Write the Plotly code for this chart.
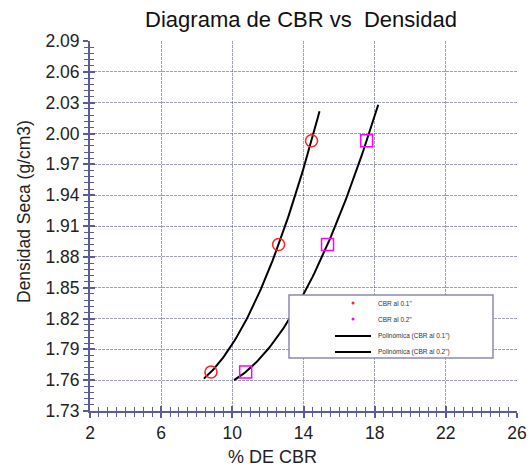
import numpy as np
import plotly.graph_objects as go

# ---- data ----
cbr_01 = [8.8, 12.6, 14.45]
dens_01 = [1.768, 1.892, 1.993]
cbr_02 = [10.75, 15.35, 17.55]
dens_02 = [1.768, 1.892, 1.993]
trend_range_01 = [8.4, 14.9]
trend_range_02 = [10.1, 18.2]
x_ticks = [2, 6, 10, 14, 18, 22, 26]
y_ticks = [1.73, 1.76, 1.79, 1.82, 1.85, 1.88, 1.91, 1.94, 1.97, 2.00, 2.03, 2.06, 2.09]
legend_names = ['CBR al 0.1"', 'CBR al 0.2"', 'Polinómica (CBR al 0.1")', 'Polinómica (CBR al 0.2")']

FONT = "Liberation Sans, Arial, sans-serif"
GRID = "rgba(60,60,140,0.5)"
AXIS = "#5a5a9c"
RED = "#ff2020"
MAG = "#ff00ff"

W, H = 529, 466
ML, MR, MT, MB = 90, 12, 41, 55
PW, PH = W - ML - MR, H - MT - MB


def px(x):
    return (x - ML) / PW


def py(y):
    return (H - MB - y) / PH


def poly_curve(x, y, rng):
    c = np.polyfit(x, y, 2)
    xs = np.linspace(rng[0], rng[1], 80)
    return xs, np.polyval(c, xs)


fig = go.Figure()

tx1, ty1 = poly_curve(cbr_01, dens_01, trend_range_01)
tx2, ty2 = poly_curve(cbr_02, dens_02, trend_range_02)

fig.add_trace(go.Scatter(x=tx1, y=ty1, mode="lines", line=dict(color="black", width=2),
                         name=legend_names[2], hoverinfo="skip"))
fig.add_trace(go.Scatter(x=tx2, y=ty2, mode="lines", line=dict(color="black", width=2),
                         name=legend_names[3], hoverinfo="skip"))
fig.add_trace(go.Scatter(x=cbr_01, y=dens_01, mode="markers", name=legend_names[0],
                         marker=dict(symbol="circle-open", size=12, color=RED,
                                     line=dict(width=1.5, color=RED))))
fig.add_trace(go.Scatter(x=cbr_02, y=dens_02, mode="markers", name=legend_names[1],
                         marker=dict(symbol="square-open", size=12, color=MAG,
                                     line=dict(width=1.5, color=MAG))))
# invisible trace to activate the overlay axes (inside half of crossing ticks)
fig.add_trace(go.Scatter(x=[None], y=[None], xaxis="x2", yaxis="y2", showlegend=False,
                         hoverinfo="skip"))

# ---- legend box drawn like the reference ----
shapes = []
annotations = []
shapes.append(dict(type="rect", xref="paper", yref="paper",
                   x0=px(289), x1=px(493), y0=py(358), y1=py(295),
                   line=dict(color="#8a8ab0", width=1.5), fillcolor="white", layer="above"))
rows = [303, 319, 336, 352]
for i, (name, yy) in enumerate(zip(legend_names, rows)):
    if i < 2:
        col = RED if i == 0 else MAG
        shapes.append(dict(type="circle", xref="paper", yref="paper",
                           x0=px(351.5), x1=px(354.5), y0=py(yy + 1.5), y1=py(yy - 1.5),
                           line=dict(width=0), fillcolor=col, layer="above"))
    else:
        shapes.append(dict(type="line", xref="paper", yref="paper",
                           x0=px(335), x1=px(371), y0=py(yy), y1=py(yy),
                           line=dict(color="black", width=2), layer="above"))
    annotations.append(dict(text=name, xref="paper", yref="paper", x=px(376), y=py(yy),
                            xanchor="left", yanchor="middle", showarrow=False,
                            font=dict(size=6.5, color="#333333")))

# axis titles placed like the reference
annotations.append(dict(text="% DE CBR", xref="paper", yref="paper", x=px(272), y=py(457),
                        xanchor="center", yanchor="middle", showarrow=False,
                        font=dict(size=18, color="#222222")))
annotations.append(dict(text="Densidad Seca (g/cm3)", xref="paper", yref="paper",
                        x=px(24), y=py(212), textangle=-90,
                        xanchor="center", yanchor="middle", showarrow=False,
                        font=dict(size=17.5, color="#222222")))

fig.update_layout(
    width=W, height=H,
    margin=dict(l=ML, r=MR, t=MT, b=MB),
    paper_bgcolor="white", plot_bgcolor="white",
    font=dict(family=FONT, size=17, color="#222222"),
    title=dict(text="Diagrama de CBR vs  Densidad", x=301 / W, xanchor="center",
               y=1 - 19 / H, yanchor="middle", font=dict(size=22, color="#111111")),
    showlegend=False,
    shapes=shapes,
    annotations=annotations,
)

common_x = dict(range=[2, 26], tickvals=x_ticks, zeroline=False)
common_y = dict(range=[1.73, 2.09], tickvals=y_ticks, zeroline=False)

fig.update_layout(
    xaxis=dict(
        **common_x, ticktext=[str(v) for v in x_ticks],
        showgrid=True, gridcolor=GRID, gridwidth=1, griddash="3px,1px",
        showline=True, linecolor=AXIS, linewidth=2,
        ticks="outside", ticklen=5, tickwidth=1.5, tickcolor=AXIS,
        minor=dict(dtick=0.5, tick0=2, ticks="outside", ticklen=4, tickwidth=1,
                   tickcolor=AXIS, showgrid=False),
        automargin=False, tickfont=dict(size=17.5),
    ),
    yaxis=dict(
        **common_y, ticktext=[f"{v:.2f}" for v in y_ticks],
        showgrid=True, gridcolor=GRID, gridwidth=1, griddash="3px,1px",
        showline=True, linecolor=AXIS, linewidth=2,
        ticks="outside", ticklen=5, tickwidth=1.5, tickcolor=AXIS,
        minor=dict(dtick=0.006, tick0=1.73, ticks="outside", ticklen=4, tickwidth=1,
                   tickcolor=AXIS, showgrid=False),
        automargin=False, tickfont=dict(size=17.5),
    ),
    xaxis2=dict(
        **common_x, overlaying="x", anchor="y", showgrid=False, showticklabels=False,
        ticks="inside", ticklen=5, tickwidth=1.5, tickcolor=AXIS,
        minor=dict(dtick=0.5, tick0=2, ticks="inside", ticklen=4, tickwidth=1,
                   tickcolor=AXIS, showgrid=False),
        automargin=False,
    ),
    yaxis2=dict(
        **common_y, overlaying="y", anchor="x", showgrid=False, showticklabels=False,
        ticks="inside", ticklen=5, tickwidth=1.5, tickcolor=AXIS,
        minor=dict(dtick=0.006, tick0=1.73, ticks="inside", ticklen=4, tickwidth=1,
                   tickcolor=AXIS, showgrid=False),
        automargin=False,
    ),
)

fig.write_html(
    "out.html",
    config={"displayModeBar": False},
    post_script="document.body.style.margin='0';document.body.style.overflow='hidden';",
)
